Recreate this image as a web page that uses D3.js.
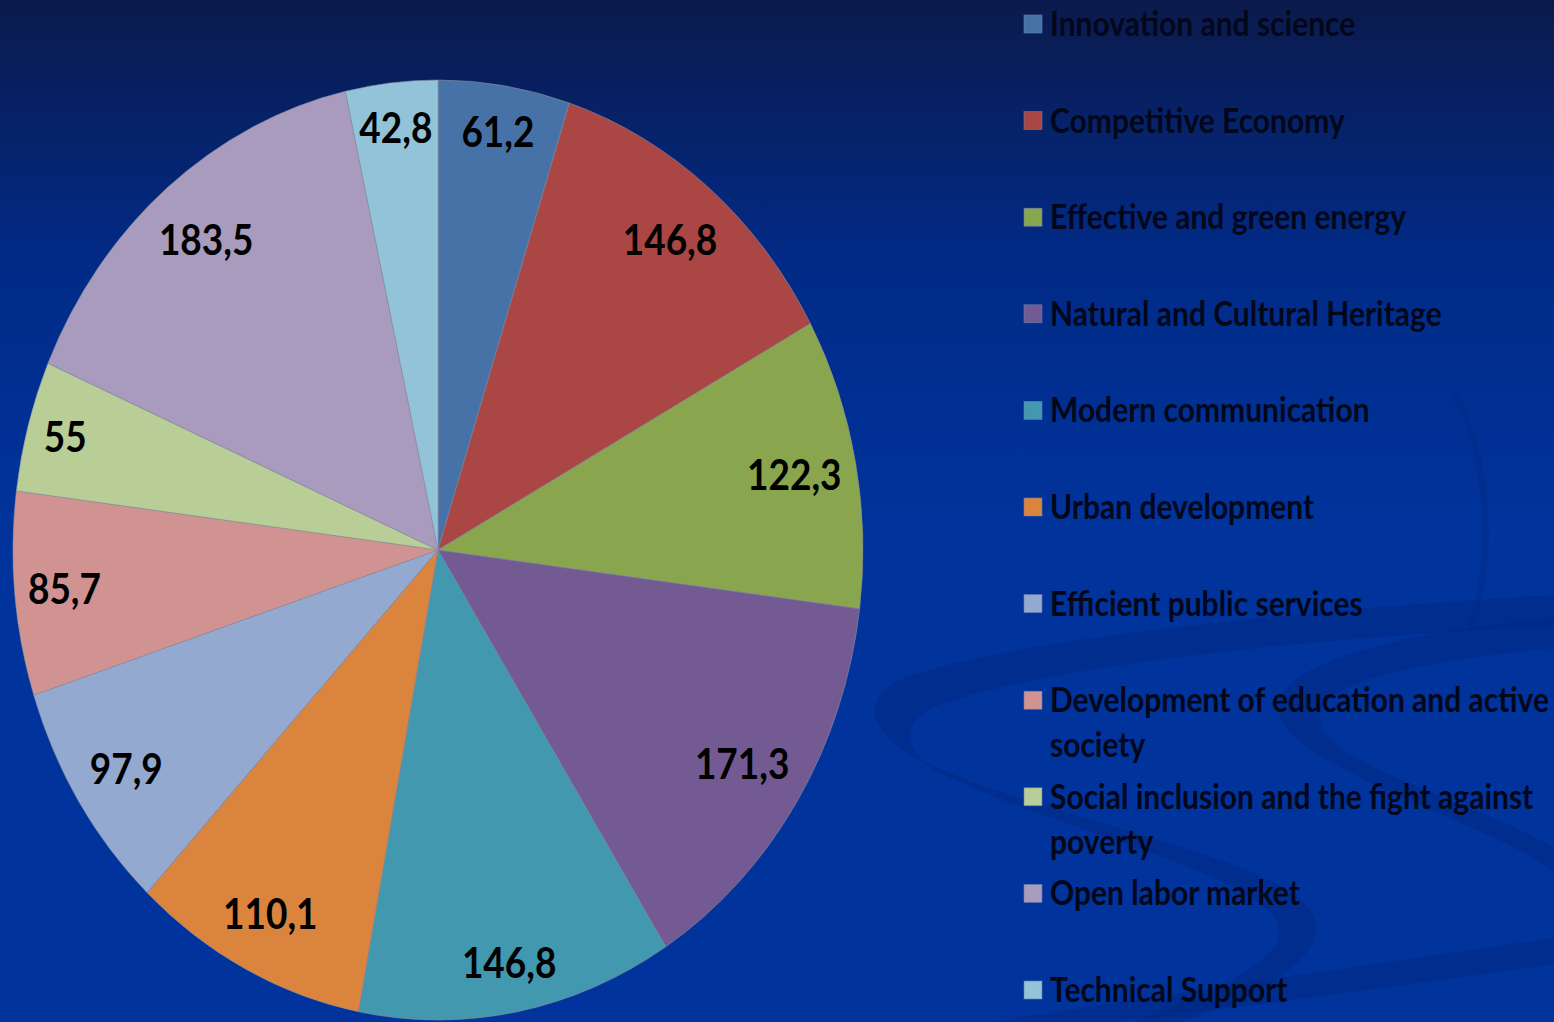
<!DOCTYPE html>
<html><head><meta charset="utf-8">
<script src="https://cdn.jsdelivr.net/npm/d3@7"></script>
<style>html,body{margin:0;padding:0;overflow:hidden;background:#00339b}</style>
</head><body>
<svg id="chart" width="1554" height="1022"></svg>
<script>
const categories = ["Innovation and science","Competitive Economy","Effective and green energy","Natural and Cultural Heritage","Modern communication","Urban development","Efficient public services","Development of education and active society","Social inclusion and the fight against poverty","Open labor market","Technical Support"];
const values = [61.2,146.8,122.3,171.3,146.8,110.1,97.9,85.7,55,183.5,42.8];
const colors = ["#4672a7","#aa4643","#89a54e","#735a92","#4198af","#db843d","#93a9cf","#d19392","#b9cd96","#a99bbd","#92c3d8"];
const legendLines = [["Innovation and science"],["Competitive Economy"],["Effective and green energy"],["Natural and Cultural Heritage"],["Modern communication"],["Urban development"],["Efficient public services"],["Development of education and active","society"],["Social inclusion and the fight against","poverty"],["Open labor market"],["Technical Support"]];

const W=1554,H=1022;
const svg=d3.select("#chart");
const defs=svg.append("defs");
const g0=defs.append("linearGradient").attr("id","bg").attr("x1",0).attr("y1",0).attr("x2",0).attr("y2",1);
g0.append("stop").attr("offset","0").attr("stop-color","#0b1a4c");
g0.append("stop").attr("offset","0.25").attr("stop-color","#012a86");
g0.append("stop").attr("offset","0.5").attr("stop-color","#00339b");
g0.append("stop").attr("offset","1").attr("stop-color","#00339b");
svg.append("rect").attr("width",W).attr("height",H).attr("fill","url(#bg)");

// decorative swirls (background ornament)
const sw=svg.append("g").attr("fill","#002782").attr("fill-opacity",0.5);
sw.append("path").attr("d","M1554,595 C1300,610 1000,640 900,680 C860,700 868,732 920,760 C1050,822 1300,860 1315,920 C1325,962 1250,1000 1180,1022 L1135,1022 C1215,990 1288,960 1278,925 C1258,872 1060,832 938,772 C898,748 902,718 942,704 C1050,666 1300,638 1554,626 Z");
sw.append("path").attr("d","M1554,618 C1450,628 1320,648 1285,690 C1265,716 1290,742 1350,772 C1420,810 1520,842 1554,872 L1554,848 C1500,815 1400,786 1347,752 C1312,730 1312,706 1342,690 C1392,666 1480,656 1554,648 Z");
sw.append("path").attr("d","M990,1022 C1200,990 1400,960 1554,938 L1554,964 C1400,986 1220,1010 1110,1022 Z");
svg.append("path").attr("fill","none").attr("stroke","#002782").attr("stroke-opacity",0.4).attr("stroke-width",6)
  .attr("d","M1455,395 C1490,460 1495,560 1470,630");

const cx=438,cy=550,R=425,sy=470/425;
const pie=d3.pie().sort(null).value(d=>d)(values);
const arc=d3.arc().innerRadius(0).outerRadius(R);
const pg=svg.append("g").attr("transform",`translate(${cx},${cy}) scale(1,${sy})`);
pg.selectAll("path").data(pie).join("path")
  .attr("d",arc).attr("fill",(d,i)=>colors[i])
  .attr("stroke","#8a8fa0").attr("stroke-width",0.8).attr("stroke-opacity",0.7);

const fmt=v=>d3.format("")(v).replace(".",",");
const labels=svg.append("g").selectAll("text").data(pie).join("text")
  .attr("text-anchor","middle").attr("dy","0.36em")
  .attr("font-family","Lato, 'Open Sans', sans-serif").attr("font-weight","bold").attr("font-size",37)
  .attr("fill","#000").text(d=>fmt(d.data));
// "inside end" placement: label box kept just inside the outer edge along the bisector
const boxH=52, margin=11;
labels.each(function(d){
  const w=this.getBBox().width;
  const a=(d.startAngle+d.endAngle)/2;
  const proj=(w/2)*Math.abs(Math.sin(a))+(boxH/2)*Math.abs(Math.cos(a));
  const r=R-margin-proj;
  const x=cx+r*Math.sin(a), y=cy-r*Math.cos(a)*sy;
  d3.select(this).attr("transform",`translate(${x},${y}) scale(1,1.14)`);
});

const lg=svg.append("g");
const rowH=96.6;
categories.forEach((c,i)=>{
  const y0=15+i*rowH;
  lg.append("rect").attr("x",1024).attr("y",y0).attr("width",18).attr("height",18).attr("fill",colors[i]).attr("stroke","#6a7fb0").attr("stroke-width",0.6);
  legendLines[i].forEach((ln,j)=>{
    lg.append("text").attr("transform",`translate(1050,${y0+21+j*45}) scale(1,1.12)`)
      .attr("font-family","Lato, 'Open Sans', sans-serif").attr("font-weight","bold").attr("font-size",30)
      .attr("fill","#03071a").text(ln);
  });
});
</script>
</body></html>
